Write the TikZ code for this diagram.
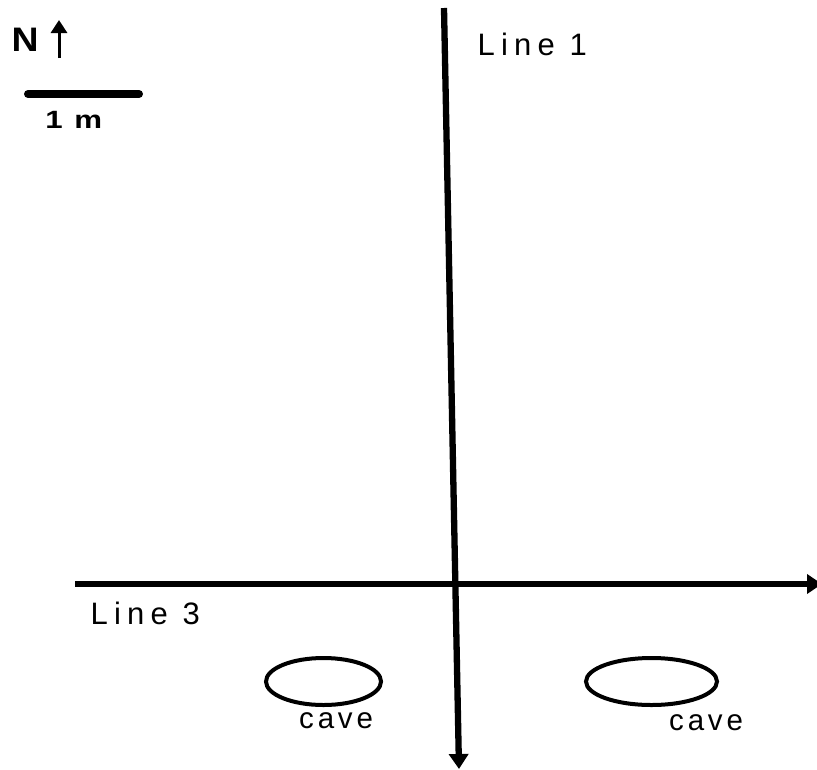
\documentclass[tikz,border=0pt]{standalone}
\usepackage{fontspec}
\setmainfont{Liberation Sans}
\usetikzlibrary{arrows.meta}
\tikzset{
  lbl/.style={inner sep=0pt, anchor=base west, font=\fontsize{31}{31}\selectfont\addfontfeature{LetterSpace=20}},
  cavelbl/.style={inner sep=0pt, anchor=base west, font=\fontsize{29.5}{29.5}\selectfont\addfontfeature{LetterSpace=13}},
  cavering/.style={draw, line width=4pt},
  mainline/.style={line width=6.3pt, -{Triangle[length=15pt,width=19pt]}},
}
\begin{document}
\begin{tikzpicture}[x=1pt,y=-1pt]
\useasboundingbox (0,0) rectangle (817,769);
% Line 1 (vertical)
\coordinate (l1top) at (444,8);
\coordinate (l1bot) at (459,769);
\draw[mainline] (l1top) -- (l1bot);
% Line 3 (horizontal)
\coordinate (l3left) at (75,584);
\coordinate (l3right) at (822,584);
\draw[mainline] (l3left) -- (l3right);
% labels
\node[lbl] (line1) at (477.5,55.5) {Line 1};
\node[lbl] (line3) at (90.5,624) {Line 3};
% caves
\draw[cavering] (323.5,681.5) ellipse [x radius=57.5, y radius=23.5];
\draw[cavering] (651.5,681.5) ellipse [x radius=65.5, y radius=23.5];
\node[cavelbl] (cave1) at (299,728.5) {cave};
\node[cavelbl] (cave2) at (669,730.5) {cave};
% north arrow
\node[inner sep=0pt, anchor=base west, xscale=1.1, font=\fontsize{34}{34}\selectfont\bfseries] (north) at (11.5,51.7) {N};
\coordinate (nbase) at (59,58);
\coordinate (ntip) at (59,20);
\draw[line width=3pt, -{Triangle[length=13pt,width=16pt]}] (nbase) -- (ntip);
% scale bar
\coordinate (sb1) at (28,94);
\coordinate (sb2) at (139,94);
\draw[line width=8pt, line cap=round] (sb1) -- (sb2);
\node[inner sep=0pt, anchor=base west, xscale=1.25, font=\fontsize{25}{25}\selectfont\bfseries\addfontfeature{LetterSpace=10}] (scale) at (45,128.3) {1 m};
\end{tikzpicture}
\end{document}
